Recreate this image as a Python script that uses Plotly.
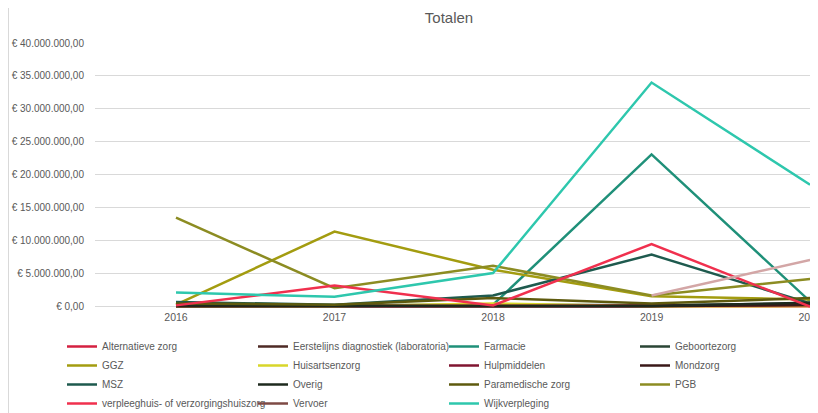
import plotly.graph_objects as go

years = [2016, 2017, 2018, 2019, 2020]

series_names = [
    "Alternatieve zorg", "Eerstelijns diagnostiek (laboratoria)", "Farmacie", "Geboortezorg",
    "GGZ", "Huisartsenzorg", "Hulpmiddelen", "Mondzorg",
    "MSZ", "Overig", "Paramedische zorg", "PGB",
    "verpleeghuis- of verzorgingshuiszorg", "Vervoer", "Wijkverpleging",
]

# values in euro (millions)
alternatieve_zorg = [0.05, 0.05, 0.05, 0.10, 0.05]
eerstelijns_diagnostiek = [0.10, 0.10, 0.10, 0.10, 0.30]
farmacie = [0.05, 0.05, 0.30, 23.1, 0.80]
geboortezorg = [0.40, 0.20, 0.30, 0.20, 0.50]
ggz = [0.30, 11.4, 5.6, 1.6, 1.1]
huisartsenzorg = [0.05, 0.05, 0.50, 0.05, 0.10]
hulpmiddelen = [0.10, 0.10, 0.10, 0.10, 0.20]
mondzorg = [0.05, 0.05, 0.05, 0.05, 0.30]
msz = [0.70, 0.30, 1.70, 7.9, 0.50]
overig = [0.20, 0.10, 0.10, 0.10, 0.60]
paramedische_zorg = [0.50, 0.30, 1.30, 0.50, 1.30]
pgb = [13.5, 2.8, 6.2, 1.7, 4.2]
verpleeghuiszorg = [0.20, 3.2, 0.20, 9.5, 0.0]
vervoer = [None, None, None, 1.7, 7.1]
wijkverpleging = [2.15, 1.5, 5.1, 34.0, 18.5]

values = [
    alternatieve_zorg, eerstelijns_diagnostiek, farmacie, geboortezorg,
    ggz, huisartsenzorg, hulpmiddelen, mondzorg,
    msz, overig, paramedische_zorg, pgb,
    verpleeghuiszorg, vervoer, wijkverpleging,
]

colors = [
    "#d42040", "#4e2a25", "#1f9079", "#2a4535",
    "#a39c10", "#d8d62a", "#801530", "#3a1818",
    "#1e5a4e", "#1e2a1e", "#5e5a0e", "#8c8c22",
    "#f0304e", "#7e4a45", "#2ec7ad",
]
vervoer_line_color = "#d3a6a6"

y_ticks = [0, 5e6, 10e6, 15e6, 20e6, 25e6, 30e6, 35e6, 40e6]


def euro(v):
    s = f"{v:,.2f}"
    s = s.replace(",", "X").replace(".", ",").replace("X", ".")
    return "€ " + s


y_tick_labels = [euro(v) for v in y_ticks]

FONT = "Liberation Sans Narrow, Liberation Sans, Arial, sans-serif"
GRAY = "#595959"

fig = go.Figure()
for name, vals, col in zip(series_names, values, colors):
    yv = [None if v is None else v * 1e6 for v in vals]
    if name == "Vervoer":
        fig.add_trace(go.Scatter(x=years, y=yv, mode="lines", name=name, legendgroup=name,
                                 showlegend=False, line=dict(color=vervoer_line_color, width=2.5),
                                 connectgaps=False))
        fig.add_trace(go.Scatter(x=[None], y=[None], mode="lines", name=name, legendgroup=name,
                                 line=dict(color=col, width=2.5)))
    else:
        fig.add_trace(go.Scatter(x=years, y=yv, mode="lines", name=name,
                                 line=dict(color=col, width=2.5)))

# the page adds an 8px body margin; figure coordinates below are page coordinates minus 8
OFF = 8
W, H = 810, 405
L, R, T = 95 - OFF, 0, 43 - OFF
ZERO_Y = 309 - OFF
B = H - ZERO_Y
plot_w = W - L - R
plot_h = ZERO_Y - T


def px_to_paper_x(px):
    return (px - OFF - L) / plot_w


def px_to_paper_y(py):
    return (ZERO_Y - (py - OFF)) / plot_h


fig.update_layout(
    width=W, height=H,
    margin=dict(l=L, r=R, t=T, b=B, pad=0, autoexpand=False),
    paper_bgcolor="white", plot_bgcolor="white",
    font=dict(family=FONT, size=10, color=GRAY),
    title=dict(text="Totalen", x=(449 - OFF) / W, xanchor="center", y=1 - (18 - OFF) / H,
               yanchor="middle", font=dict(family=FONT, size=15, color=GRAY)),
    showlegend=True,
    legend=dict(orientation="h", xref="paper", yref="paper",
                x=px_to_paper_x(62), xanchor="left", y=px_to_paper_y(332), yanchor="top",
                entrywidth=146, entrywidthmode="pixels",
                font=dict(family=FONT, size=10, color=GRAY),
                bgcolor="rgba(0,0,0,0)", traceorder="normal", itemwidth=30),
    xaxis=dict(range=[2015.489, 2020.05], tickvals=years, ticktext=[str(y) for y in years],
               showgrid=False, zeroline=False, showline=False, ticks="",
               ticklabeloverflow="allow",
               tickfont=dict(family=FONT, size=10.5, color=GRAY)),
    yaxis=dict(range=[-0.35e6, 40e6], tickvals=y_ticks, ticktext=y_tick_labels,
               showgrid=True, gridcolor="#d9d9d9", gridwidth=1,
               zeroline=True, zerolinecolor="#d9d9d9", zerolinewidth=1,
               showline=False, ticks="", ticklabelstandoff=10,
               tickfont=dict(family=FONT, size=10, color=GRAY)),
    shapes=[
        dict(type="line", xref="paper", yref="paper",
             x0=px_to_paper_x(8), x1=px_to_paper_x(900), y0=px_to_paper_y(7.5), y1=px_to_paper_y(7.5),
             line=dict(color="#d9d9d9", width=1), layer="below"),
        dict(type="line", xref="paper", yref="paper",
             x0=px_to_paper_x(8.5), x1=px_to_paper_x(8.5), y0=px_to_paper_y(7), y1=px_to_paper_y(420),
             line=dict(color="#d9d9d9", width=1), layer="below"),
    ],
)

fig.write_html("out.html")
